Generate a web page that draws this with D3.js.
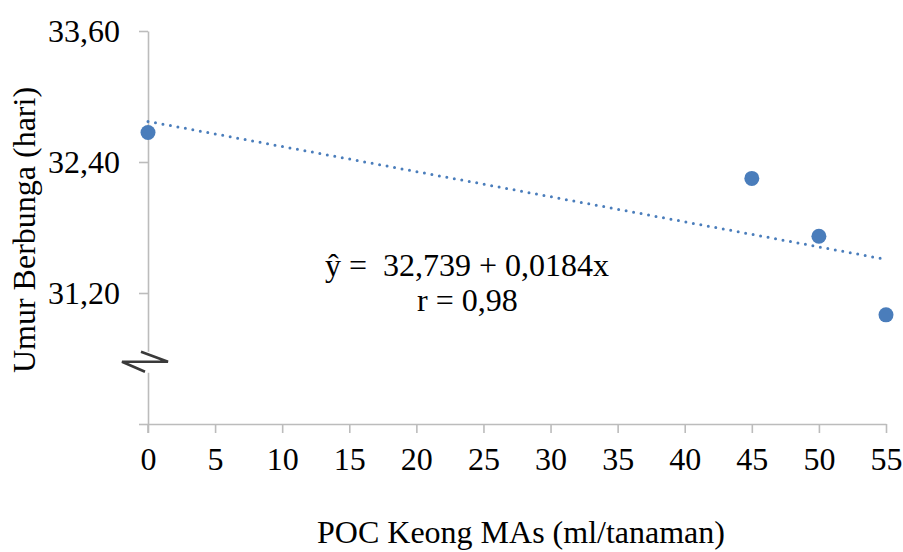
<!DOCTYPE html>
<html>
<head>
<meta charset="utf-8">
<script src="https://cdn.jsdelivr.net/npm/d3@7/dist/d3.min.js"></script>
<style>
  html, body { margin: 0; padding: 0; background: #fff; }
  svg { display: block; font-family: "Liberation Serif", "Times New Roman", serif; }
</style>
</head>
<body>
<svg id="chart" width="903" height="552"></svg>
<script>
// Dose of POC Keong MAs (ml/tanaman) and flowering age (hari)
const doses = [0, 45, 50, 55];
const floweringAge = [32.67, 32.25, 31.72, 31.00];

const xTicks = [0, 5, 10, 15, 20, 25, 30, 35, 40, 45, 50, 55];
const yTicks = [30.0, 31.2, 32.4, 33.6];
const yTickLabels = ["", "31,20", "32,40", "33,60"];

const equationText = "ŷ =  32,739 + 0,0184x";
const rText = "r = 0,98";
const xTitle = "POC Keong MAs (ml/tanaman)";
const yTitle = "Umur Berbunga (hari)";

const svg = d3.select("#chart");
const axisColor = "#bcbcbc";
const pointColor = "#4a7dbb";

const x = d3.scaleLinear().domain([0, 55]).range([148, 886]);
const y = d3.scaleLinear().domain([30, 33.6]).range([424, 31]);

// X axis
const xAxis = svg.append("g").attr("transform", `translate(0,${y(30)})`)
  .call(d3.axisBottom(x).tickValues(xTicks).tickSize(9).tickSizeOuter(0).tickPadding(14)
    .tickFormat(d => String(d)));
// Y axis
const yAxis = svg.append("g").attr("transform", `translate(${x(0)},0)`)
  .call(d3.axisLeft(y).tickValues(yTicks).tickSize(9).tickSizeOuter(0).tickPadding(19)
    .tickFormat((d, i) => yTickLabels[i]));

[xAxis, yAxis].forEach(g => {
  g.select(".domain").attr("stroke", axisColor).attr("stroke-width", 1.6);
  g.selectAll(".tick line").attr("stroke", axisColor).attr("stroke-width", 1.6);
  g.selectAll(".tick text").attr("fill", "#000").style("font-size", "32px")
    .style("font-family", "'Liberation Serif', 'Times New Roman', serif");
});
xAxis.selectAll(".tick text").attr("dy", "0.71em");
// the y axis line also runs down to the x tick length
svg.append("line").attr("x1", x(0)).attr("x2", x(0)).attr("y1", y(30)).attr("y2", y(30) + 9)
  .attr("stroke", axisColor).attr("stroke-width", 1.6);

// Axis break mark on the y axis
const by = y(30.57), bx = x(0);
svg.append("rect").attr("x", bx - 26).attr("y", by - 10).attr("width", 60).attr("height", 21)
  .attr("fill", "#fff");
svg.append("path")
  .attr("d", `M${bx - 7},${by - 10} L${bx + 20},${by} L${bx - 26},${by} L${bx - 3},${by + 10}`)
  .attr("fill", "none").attr("stroke", "#3a3a3a").attr("stroke-width", 2.6)
  .attr("stroke-linejoin", "miter");

// Linear trend line (least squares) through the points
const n = doses.length;
const mx = d3.mean(doses), my = d3.mean(floweringAge);
const sxy = d3.sum(doses, (d, i) => (d - mx) * (floweringAge[i] - my));
const sxx = d3.sum(doses, d => (d - mx) * (d - mx));
const slope = sxy / sxx, intercept = my - slope * mx;
svg.append("line")
  .attr("x1", x(0)).attr("y1", y(intercept))
  .attr("x2", x(55)).attr("y2", y(intercept + slope * 55))
  .attr("stroke", pointColor).attr("stroke-width", 3)
  .attr("stroke-linecap", "round").attr("stroke-dasharray", "0 7.6");

// Points
svg.append("g").selectAll("circle").data(doses).join("circle")
  .attr("cx", d => x(d)).attr("cy", (d, i) => y(floweringAge[i]))
  .attr("r", 7.5).attr("fill", pointColor);

// Equation and correlation
svg.append("text").attr("x", 325).attr("y", 276).style("font-size", "32px")
  .attr("xml:space", "preserve").style("white-space", "pre").text(equationText);
svg.append("text").attr("x", 417).attr("y", 311).style("font-size", "32px").text(rText);

// Axis titles
svg.append("text").attr("x", 521).attr("y", 543).attr("text-anchor", "middle")
  .style("font-size", "32px").text(xTitle);
svg.append("text").attr("transform", "translate(35,230) rotate(-90)").attr("text-anchor", "middle")
  .style("font-size", "32px").text(yTitle);
</script>
</body>
</html>
